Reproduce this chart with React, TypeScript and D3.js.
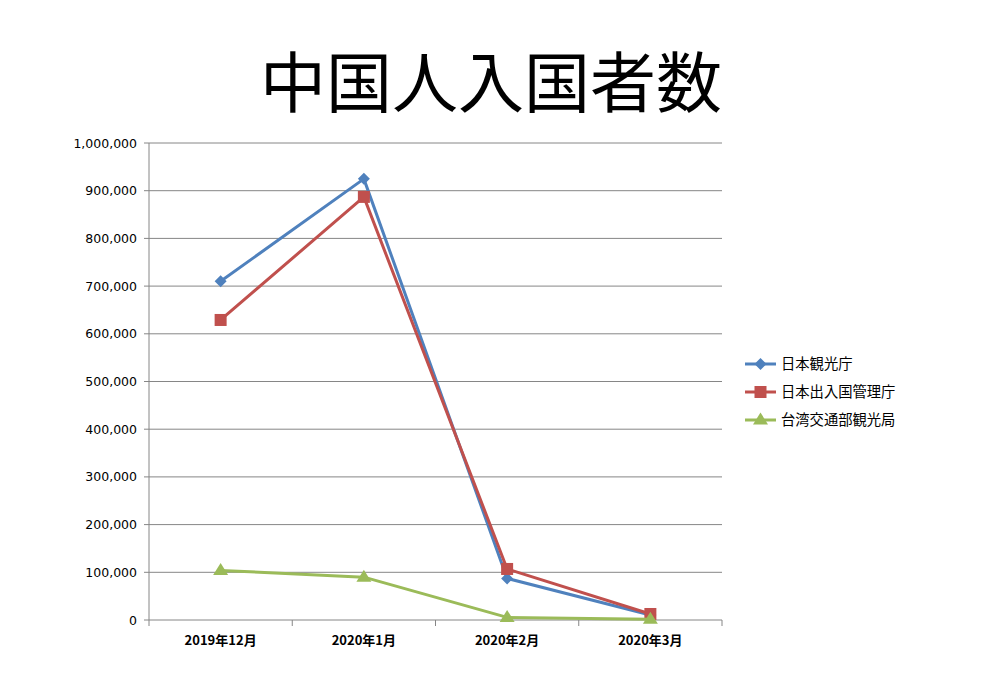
import React from "react";
import * as d3 from "d3";

const categories = ["2019年12月", "2020年1月", "2020年2月", "2020年3月"];
const seriesNames = ["日本観光庁", "日本出入国管理庁", "台湾交通部観光局"];
const kankocho = [710000, 924800, 87200, 10400];
const nyukan = [629000, 887000, 107000, 12600];
const taiwan = [104000, 89800, 5500, 1500];
const yTicks = [0, 100000, 200000, 300000, 400000, 500000, 600000, 700000, 800000, 900000, 1000000];
const titleText = "中国人入国者数";

const colors = ["#4F81BD", "#C0504D", "#9BBB59"];
const markers = ["diamond", "square", "triangle"];

export default function App() {
  const W = 981, H = 677;
  const left = 149, right = 722, top = 143, bottom = 620;
  const x = d3.scaleBand().domain(categories).range([left, right]);
  const y = d3.scaleLinear().domain([0, 1000000]).range([bottom, top]);
  const fmt = d3.format(",");
  const data = [kankocho, nyukan, taiwan];
  const line = d3
    .line<number>()
    .x((_, i) => (x(categories[i]) as number) + x.bandwidth() / 2)
    .y((d) => y(d));

  const marker = (type: string, cx: number, cy: number, color: string, key: string) => {
    if (type === "diamond") {
      const s = 6;
      return <path key={key} d={`M${cx},${cy - s}L${cx + s},${cy}L${cx},${cy + s}L${cx - s},${cy}Z`} fill={color} />;
    }
    if (type === "square") {
      const s = 6;
      return <rect key={key} x={cx - s} y={cy - s} width={2 * s} height={2 * s} fill={color} />;
    }
    const s = 7.5;
    return <path key={key} d={`M${cx},${cy - s}L${cx + s},${cy + s * 0.6}L${cx - s},${cy + s * 0.6}Z`} fill={color} />;
  };

  const axisColor = "#868686";
  const boundaries = [left, ...categories.map((c) => (x(c) as number) + x.bandwidth())];

  return (
    <svg width={W} height={H} style={{ position: "absolute", left: 0, top: 0, background: "#fff" }}>
      <rect width={W} height={H} fill="#fff" />
      <text x={491} y={107} textAnchor="middle" fontSize={66} fontWeight={400} fontFamily="'Noto Sans CJK JP', sans-serif" fill="#000">
        {titleText}
      </text>
      {yTicks.map((t) => (
        <g key={t}>
          <line x1={left} x2={right} y1={y(t)} y2={y(t)} stroke={axisColor} strokeWidth={1} />
          <line x1={left - 5} x2={left} y1={y(t)} y2={y(t)} stroke={axisColor} strokeWidth={1} />
          <text x={137} y={y(t) + 4.5} textAnchor="end" fontSize={12.5} fontFamily="Tahoma, 'DejaVu Sans', sans-serif" fill="#000">
            {fmt(t)}
          </text>
        </g>
      ))}
      <line x1={left} x2={left} y1={top} y2={bottom} stroke={axisColor} strokeWidth={1} />
      {boundaries.map((b, i) => (
        <line key={i} x1={b} x2={b} y1={bottom} y2={bottom + 6} stroke={axisColor} strokeWidth={1} />
      ))}
      {categories.map((c) => (
        <text key={c} x={(x(c) as number) + x.bandwidth() / 2} y={645} textAnchor="middle" fontSize={13} fontWeight="bold" fontFamily="'Noto Sans CJK JP', sans-serif" fill="#000">
          {c}
        </text>
      ))}
      {data.map((s, si) => (
        <g key={si}>
          <path d={line(s) as string} fill="none" stroke={colors[si]} strokeWidth={3} strokeLinejoin="round" />
          {s.map((v, i) =>
            marker(markers[si], (x(categories[i]) as number) + x.bandwidth() / 2, y(v), colors[si], `${si}-${i}`)
          )}
        </g>
      ))}
      {seriesNames.map((n, i) => {
        const ly = 364 + i * 28;
        return (
          <g key={n}>
            <line x1={745} x2={776} y1={ly} y2={ly} stroke={colors[i]} strokeWidth={3} />
            {marker(markers[i], 760.5, ly, colors[i], `l${i}`)}
            <text x={781} y={ly + 5} fontSize={14.3} fontFamily="'Noto Sans CJK JP', sans-serif" fill="#000">
              {n}
            </text>
          </g>
        );
      })}
    </svg>
  );
}
